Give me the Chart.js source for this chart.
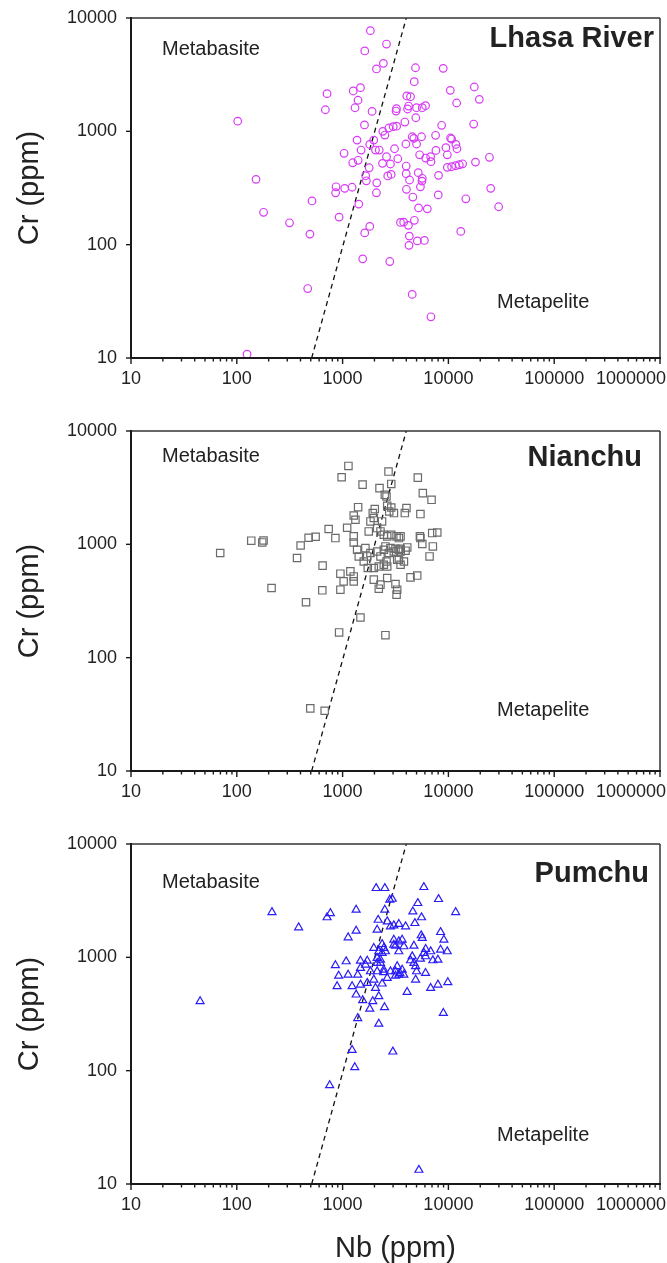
<!DOCTYPE html>
<html>
<head>
<meta charset="utf-8">
<script src="https://cdn.jsdelivr.net/npm/chart.js@4/dist/chart.umd.min.js"></script>
<style>
  body { margin: 0; background: #fff; }
  #wrap { position: relative; width: 667px; height: 1263px; }
  #wrap canvas { position: absolute; left: 0; }
</style>
</head>
<body>
<div id="wrap">
  <canvas id="lhasa" width="667" height="390" style="top:0"></canvas>
  <canvas id="nianchu" width="667" height="390" style="top:413px"></canvas>
  <canvas id="pumchu" width="667" height="437" style="top:826px"></canvas>
</div>
<script>
// Nb vs Cr (ppm), one pair of arrays per river
var lhasaNb = [1830, 2600, 1620, 2430, 2090, 713, 1475, 1260, 1400, 1310, 687, 1900, 3230, 3200, 102, 1610,
  2400, 2735, 3010, 3240, 2510, 1370, 1970, 1806, 2046, 2218, 1496, 3097, 1033, 2600, 3326, 1247, 1402,
  2383, 2833, 1783, 152, 1652, 1676, 2673, 2878, 2103, 867, 1047, 1230, 859, 2089, 514, 1422, 179, 315,
  927, 491, 1806, 1618, 3524, 1549, 2793, 468, 125, 4887, 8934, 4753, 10420, 17580, 19600, 11970, 4045,
  4385, 4200, 4110, 5000, 5662, 6081, 4920, 3873, 8630, 17330, 4550, 4710, 5572, 7568, 10490, 10720,
  3963, 5000, 9480, 11780, 12050, 7620, 5350, 6095, 6795, 6840, 9770, 24430, 18030, 9770, 10720, 11700,
  12680, 13620, 3990, 3990, 5190, 8070, 4295, 5665, 5630, 4015, 5440, 25120, 4613, 8015, 14620, 29850,
  5225, 6320, 3776, 4187, 4765, 4275, 4240, 5090, 5930, 13090, 4550, 6840];
var lhasaCr = [7730, 5890, 5120, 3980, 3550, 2150, 2430, 2270, 1880, 1615, 1550, 1500, 1585, 1510, 1230, 1140,
  1000, 1070, 1100, 1110, 927, 837, 837, 767, 684, 684, 684, 702, 640, 597, 573, 528, 555,
  522, 515, 477, 377, 406, 366, 404, 417, 351, 324, 314, 321, 287, 287, 243, 228, 193, 156,
  175, 124, 145, 127, 157, 75, 71, 41, 10.8, 3640, 3594, 2742, 2300, 2461, 1915, 1778, 2051,
  2020, 1671, 1574, 1616, 1616, 1683, 1318, 1208, 1130, 1159, 896, 867, 896, 923, 873, 855,
  773, 773, 717, 767, 702, 679, 621, 581, 597, 540, 621, 590, 535, 481, 487, 497,
  507, 517, 494, 423, 432, 409, 372, 385, 364, 308, 324, 314, 263, 275, 254, 216,
  211, 207, 158, 148, 164, 119, 98.6, 108, 109, 131, 36.4, 23.1];

var nianchuNb = [1135, 979, 1545, 2716, 2233, 2506, 2600, 2884, 1402, 2014, 1928, 1972, 2641, 2760, 2884, 3054,
  1274, 1322, 738, 1104, 855, 477, 556, 401, 137, 174, 179, 69.7, 371, 647, 1274, 1274, 1833, 1766,
  2121, 2280, 2451, 2641, 2884, 3236, 3404, 1372, 1643, 1833, 2121, 2451, 2735, 3048, 3404, 3281,
  1422, 1706, 1585, 1730, 1972, 2198, 2641, 953, 1184, 1274, 1023, 1274, 1972, 2280, 2641, 2198,
  213, 643, 953, 451, 1475, 927, 2540, 495, 677, 5140, 5730, 6930, 4015, 3873, 5440, 2361, 3532,
  5380, 5440, 7030, 7850, 5665, 7130, 2540, 2833, 3162, 3532, 4085, 3532, 3936, 6637, 2280, 2600,
  3404, 3800, 3532, 2451, 4385, 5070, 3162, 3281, 3236];
var nianchuCr = [4920, 3908, 3365, 4385, 3133, 2735, 2642, 3412, 2128, 2046, 1888, 1706, 2188, 1950, 2115, 1888,
  1796, 1648, 1366, 1400, 1136, 1143, 1166, 977, 1077, 1040, 1082, 838, 757, 649, 1175, 1040, 1592, 1300,
  1391, 1300, 1214, 1175, 1214, 1175, 1136, 895, 927, 838, 865, 895, 838, 865, 895, 731,
  782, 782, 706, 618, 618, 638, 638, 551, 577, 521, 471, 471, 488, 441, 505, 406,
  412, 393, 398, 308, 226, 167, 158, 35.7, 34.0, 3879, 2831, 2471, 2089, 1888, 1849, 1592, 1175,
  1175, 1136, 1257, 1273, 1007, 958, 958, 927, 914, 914, 939, 865, 879, 782, 782, 706,
  731, 706, 661, 661, 511, 530, 447, 398, 360];

var pumchuNb = [45.0, 215, 384, 713, 766, 1343, 1343, 1128, 2075, 2506, 2793, 2944, 2506, 2168, 2641, 2121,
  2833, 3048, 3398, 2364, 1972, 2198, 2540, 3048, 3398, 3398, 855, 1080, 1475, 1710, 1648, 2121, 2121,
  2280, 918, 1128, 1390, 1475, 1833, 2121, 2451, 2833, 3162, 3398, 887, 1230, 1475, 1710, 1972, 2364,
  1343, 2046, 2198, 1549, 1928, 1806, 2489, 1390, 2198, 1230, 2985, 1303, 755, 5260, 5860, 8070, 5140,
  11700, 4613, 5572, 4820, 3936, 8433, 9060, 5533, 5662, 3048, 3656, 3793, 3162, 4720, 2451, 2364,
  6095, 5875, 6795, 8433, 9750, 4550, 4385, 4720, 4898, 5440, 6081, 7130, 7960, 3281, 3656, 3475,
  2280, 2451, 5000, 6081, 2641, 3162, 3793, 4898, 4074, 6795, 7960, 9880, 8955];
var pumchuCr = [409, 2500, 1834, 2249, 2449, 2624, 1714, 1496, 4074, 4074, 3213, 3275, 2624, 2138, 2071, 1746,
  1871, 1909, 1963, 1306, 1205, 1127, 1127, 1288, 1380, 1127, 849, 920, 931, 931, 859, 890, 984,
  951, 687, 701, 701, 803, 751, 751, 736, 751, 751, 701, 555, 555, 573, 593, 634, 585,
  468, 535, 453, 417, 409, 351, 362, 290, 259, 152, 147, 107, 74.3, 13.3, 4159, 3258, 3005,
  2500, 2535, 2249, 2000, 1871, 1667, 1426, 1560, 1476, 1426, 1426, 1248, 1263, 1263, 1205, 1089,
  1181, 1089, 1127, 1164, 1127, 1018, 939, 890, 832, 970, 1018, 939, 951, 832, 776, 726,
  890, 776, 751, 726, 656, 687, 701, 634, 494, 535, 573, 601, 322];

// metabasite / metapelite dividing line
var boundaryNb = [510, 4000];
var boundaryCr = [10, 10000];

var xTicks = [10, 100, 1000, 10000, 100000, 1000000];
var xTickLabels = ['10', '100', '1000', '10000', '100000', '1000000'];
var yTicks = [10, 100, 1000, 10000];

var FONT = "'Liberation Sans', Arial, sans-serif";
var INK = '#222';

function toPoints(xs, ys) {
  return xs.map(function (v, i) { return { x: v, y: ys[i] }; });
}

// frame, tick marks, x labels and the field names
var decor = {
  id: 'decor',
  afterDatasetsDraw: function (chart, args, opts) {
    var ctx = chart.ctx, a = chart.chartArea;
    var xs = chart.scales.x, ys = chart.scales.y;
    function seg(x1, y1, x2, y2) { ctx.beginPath(); ctx.moveTo(x1, y1); ctx.lineTo(x2, y2); ctx.stroke(); }
    ctx.save();
    ctx.strokeStyle = '#333';
    ctx.lineWidth = 1.5;
    seg(a.left, a.top, a.right, a.top);
    seg(a.right, a.top, a.right, a.bottom);
    ctx.strokeStyle = '#1a1a1a';
    ctx.lineWidth = 2;
    seg(a.left, a.top - 1, a.left, a.bottom + 1);
    seg(a.left - 1, a.bottom, a.right + 1, a.bottom);

    ctx.lineWidth = 1.4;
    xTicks.forEach(function (v, i) {
      var px = xs.getPixelForValue(v);
      seg(px, a.bottom, px, a.bottom + 6);
      if (i < xTicks.length - 1) {
        for (var k = 2; k < 10; k++) {
          var m = xs.getPixelForValue(v * k);
          seg(m, a.bottom, m, a.bottom + 3.5);
        }
      }
    });
    yTicks.forEach(function (v) {
      var py = ys.getPixelForValue(v);
      seg(a.left - 5, py, a.left, py);
    });

    ctx.fillStyle = INK;
    ctx.font = '18px ' + FONT;
    ctx.textAlign = 'center';
    ctx.textBaseline = 'top';
    xTickLabels.forEach(function (txt, i) {
      var px = xs.getPixelForValue(xTicks[i]);
      var half = ctx.measureText(txt).width / 2;
      px = Math.min(px, chart.width - 1 - half);
      ctx.fillText(txt, px, a.bottom + 12);
    });

    ctx.textBaseline = 'alphabetic';
    ctx.textAlign = 'left';
    ctx.font = '20px ' + FONT;
    ctx.fillText('Metabasite', a.left + 31, a.top + opts.basiteY);
    ctx.fillText('Metapelite', a.left + 366, a.top + opts.peliteY);
    ctx.textAlign = 'right';
    ctx.font = 'bold 29px ' + FONT;
    ctx.fillText(opts.title, opts.titleRight, a.top + opts.titleY);
    ctx.restore();
  }
};

function makeChart(id, nb, cr, marker, labels, xAxisHeight, showXTitle) {
  return new Chart(document.getElementById(id), {
    type: 'scatter',
    data: {
      datasets: [{
        data: toPoints(nb, cr),
        pointStyle: marker.shape,
        pointRadius: marker.radius,
        pointHoverRadius: marker.radius,
        pointBorderColor: marker.color,
        pointBackgroundColor: 'rgba(0,0,0,0)',
        pointBorderWidth: 1.2
      }, {
        data: toPoints(boundaryNb, boundaryCr),
        showLine: true,
        borderColor: '#111',
        borderWidth: 1.3,
        borderDash: [5, 4],
        pointRadius: 0
      }]
    },
    options: {
      responsive: false,
      animation: false,
      devicePixelRatio: 1,
      layout: { padding: { top: 18, right: 7, bottom: 0, left: 0 } },
      plugins: {
        legend: { display: false },
        tooltip: { enabled: false },
        decor: labels
      },
      scales: {
        x: {
          type: 'logarithmic',
          min: 10,
          max: 1000000,
          grid: { display: false, drawTicks: false },
          border: { display: false },
          ticks: { display: false },
          afterBuildTicks: function (s) { s.ticks = xTicks.map(function (v) { return { value: v }; }); },
          afterFit: function (s) { s.height = xAxisHeight; s.paddingLeft = 0; s.paddingRight = 0; },
          title: {
            display: showXTitle,
            text: 'Nb (ppm)',
            color: INK,
            font: { family: FONT, size: 29, lineHeight: 1 },
            padding: { top: 0, bottom: 0 }
          }
        },
        y: {
          type: 'logarithmic',
          min: 10,
          max: 10000,
          grid: { display: false, drawTicks: false },
          border: { display: false },
          afterBuildTicks: function (s) { s.ticks = yTicks.map(function (v) { return { value: v }; }); },
          afterFit: function (s) { s.width = 131; s.paddingTop = 0; s.paddingBottom = 0; },
          ticks: {
            color: INK,
            padding: 14,
            font: { family: FONT, size: 18 },
            callback: function (v) { return String(v); }
          },
          title: {
            display: true,
            text: 'Cr (ppm)',
            color: INK,
            font: { family: FONT, size: 29, lineHeight: 1 },
            padding: { top: 15, bottom: 0 }
          }
        }
      }
    },
    plugins: [decor]
  });
}

makeChart('lhasa', lhasaNb, lhasaCr,
  { shape: 'circle', radius: 3.8, color: '#d83af5' },
  { title: 'Lhasa River', titleRight: 654, titleY: 29, basiteY: 37, peliteY: 290 }, 32, false);
makeChart('nianchu', nianchuNb, nianchuCr,
  { shape: 'rect', radius: 5.2, color: '#6b6b6b' },
  { title: 'Nianchu', titleRight: 642, titleY: 35, basiteY: 31, peliteY: 285 }, 32, false);
makeChart('pumchu', pumchuNb, pumchuCr,
  { shape: 'triangle', radius: 4.6, color: '#2a1cf5' },
  { title: 'Pumchu', titleRight: 649, titleY: 38, basiteY: 44, peliteY: 297 }, 79, true);
</script>
</body>
</html>
